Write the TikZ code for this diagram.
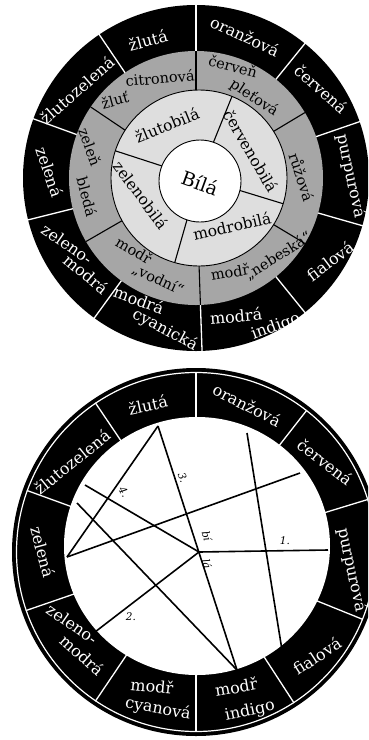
\documentclass[tikz,border=0pt]{standalone}
\usepackage{fontspec}
\setmainfont{DejaVu Serif}
\usetikzlibrary{calc}
\begin{document}
\begin{tikzpicture}[x=1pt,y=1pt,
  ring/.style={text=white,font=\fontsize{16}{16}\selectfont,inner sep=0pt},
  mid/.style={text=black,font=\fontsize{14.5}{14.5}\selectfont,inner sep=0pt},
  lite/.style={text=black,font=\fontsize{15.5}{15.5}\selectfont,inner sep=0pt},
  small/.style={text=black,font=\fontsize{10.5}{10.5}\selectfont\itshape,inner sep=0pt},
  wline/.style={white,line width=1.3pt},
  bline/.style={black,line width=1.1pt},
  star/.style={black,line width=1.6pt}]
\useasboundingbox (0,0) rectangle (368,-740);
\fill[white] (0,0) rectangle (368,-740);
\clip (0,0) rectangle (368,-740);

% ---------------- top wheel ----------------
\coordinate (T) at (196,-178);
\coordinate (TL) at (199,-178);
\coordinate (TW) at (200,-181);
\fill[black] (T) circle (173);
\foreach \a in {90,51,19,-16,-51,-88,-126,-166,160,124}
  \draw[wline] (T) -- ($(T)+(\a:174)$);
\fill[black!35] (T) circle (127);
\foreach \a in {90,31,-31,-88,-150,146}
  \draw[bline] (T) -- ($(T)+(\a:127)$);
\filldraw[fill=black!13,draw=black,line width=0.9pt] (TL) circle (88);
\foreach \a in {68,-17,-106,162}
  \draw[bline] (TL) -- ($(TL)+(\a:88)$);
\filldraw[fill=white,draw=black,line width=0.9pt] (TW) circle (41);

% outer ring labels
\node[ring,rotate=15]  (t1)  at (148,-40)  {žlutá};
\node[ring,rotate=-25] (t2)  at (245,-36)  {oranžová};
\node[ring,rotate=-42] (t3)  at (321,-89)  {červená};
\node[ring,rotate=-78] (t4)  at (351,-176) {purpurová};
\node[ring,rotate=37]  (t5)  at (330,-261) {fialová};
\node[ring,rotate=5]   (t6a) at (236,-316) {modrá};
\node[ring,rotate=20]  (t6b) at (276,-327) {indigo};
\node[ring,rotate=-20] (t7a) at (139,-300) {modrá};
\node[ring,rotate=-28] (t7b) at (165,-330) {cyanická};
\node[ring,rotate=-35] (t8a) at (67,-244)  {zeleno-};
\node[ring,rotate=-40] (t8b) at (86,-274)  {modrá};
\node[ring,rotate=-72] (t9)  at (50,-172)  {zelená};
\node[ring,rotate=41]  (t10) at (77,-90)   {žlutozelená};

% middle ring labels
\node[mid,rotate=5]   (m1a) at (160,-78)  {citronová};
\node[mid,rotate=15]  (m1b) at (115,-100) {žluť};
\node[mid,rotate=-15] (m2a) at (233,-66)  {červeň};
\node[mid,rotate=-33] (m2b) at (254,-98)  {pleťová};
\node[mid,rotate=-72] (m3)  at (302,-177) {růžová};
\node[mid,rotate=10]  (m4a) at (230,-272) {modř};
\node[mid,rotate=32]  (m4b) at (278,-256) {„nebeská“};
\node[mid,rotate=-30] (m5a) at (134,-250) {modř};
\node[mid,rotate=-25] (m5b) at (158,-280) {„vodní“};
\node[mid,rotate=-70] (m6a) at (90,-147)  {zeleň};
\node[mid,rotate=-75] (m6b) at (87,-197)  {bledá};

% light ring labels
\node[lite,rotate=22]  (l1) at (167,-125) {žlutobilá};
\node[lite,rotate=-60] (l2) at (251,-151) {červenobilá};
\node[lite,rotate=13]  (l3) at (232,-226) {modrobilá};
\node[lite,rotate=-53] (l4) at (141,-195) {zelenobilá};
\node[text=black,font=\fontsize{19}{19}\selectfont,inner sep=0pt,rotate=-20] (w) at (200,-183) {Bílá};

% ---------------- bottom wheel ----------------
\coordinate (B) at (196,-552);
\coordinate (BI) at (197,-546);
\fill[black] (B) circle (184);
\draw[white,line width=1.2pt] (B) circle (179.5);
\foreach \a in {90,52,17,-22,-57,-90,-124,-161,160,124}
  \draw[wline] (B) -- ($(B)+(\a:180)$);
\fill[white] (BI) ellipse [x radius=133, y radius=129];

\node[ring,rotate=12]  (b1)  at (148,-405) {žlutá};
\node[ring,rotate=-27] (b2)  at (247,-405) {oranžová};
\node[ring,rotate=-38] (b3)  at (325,-462) {červená};
\node[ring,rotate=-78] (b4)  at (352,-570) {purpurová};
\node[ring,rotate=33]  (b5)  at (317,-656) {fialová};
\node[ring,rotate=10]  (b6a) at (236,-687) {modř};
\node[ring,rotate=12]  (b6b) at (250,-711) {indigo};
\node[ring,rotate=-5]  (b7a) at (152,-686) {modř};
\node[ring,rotate=-10] (b7b) at (158,-709) {cyanová};
\node[ring,rotate=-35] (b8a) at (72,-624)  {zeleno-};
\node[ring,rotate=-42] (b8b) at (82,-655)  {modrá};
\node[ring,rotate=-75] (b9)  at (43,-552)  {zelená};
\node[ring,rotate=39]  (b10) at (72,-462)  {žlutozelená};

% star lines
\coordinate (pO)  at (199,-552);
\coordinate (pA)  at (67,-557);
\coordinate (pA2) at (300,-473);
\coordinate (pB)  at (158,-426);
\coordinate (pC)  at (237,-670);
\coordinate (pD)  at (85,-485);
\coordinate (pE)  at (328,-550);
\coordinate (pF)  at (77,-503);
\coordinate (pG)  at (95,-632);
\coordinate (pH1) at (247,-433);
\coordinate (pH2) at (282,-650);
\draw[star] (pA) -- (pA2);
\draw[star] (pA) -- (pB);
\draw[star] (pB) -- (pC);
\draw[star] (pD) -- (pO);
\draw[star] (pO) -- (pE);
\draw[star] (pF) -- (pC);
\draw[star] (pO) -- (pG);
\draw[star] (pH1) -- (pH2);

\node[small] (n1) at (285,-541) {1.};
\node[small] (n2) at (131,-617) {2.};
\node[small,rotate=-70] (n3) at (183,-478) {3.};
\node[small,rotate=-60] (n4) at (124,-492) {4.};
\node[small,rotate=-75] (nb1) at (207,-536) {bí};
\node[small,rotate=-75] (nb2) at (207,-564) {lá};
\end{tikzpicture}
\end{document}
